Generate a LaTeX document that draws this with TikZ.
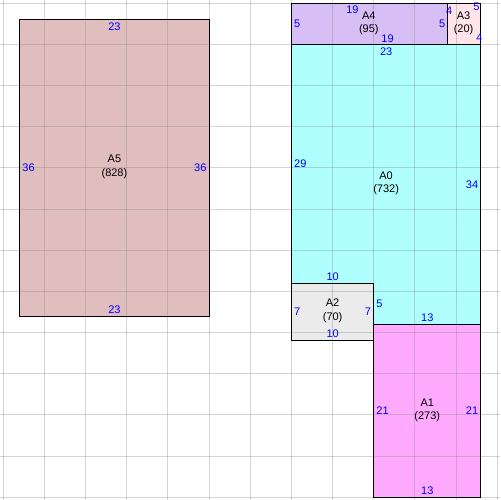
\documentclass[tikz,border=0pt]{standalone}
\usepackage{fontspec}
\setmainfont{Liberation Sans}
\definecolor{roomA}{RGB}{176,255,255}
\definecolor{roomB}{RGB}{255,170,255}
\definecolor{roomC}{RGB}{235,235,235}
\definecolor{roomD}{RGB}{255,228,234}
\definecolor{roomE}{RGB}{215,190,245}
\definecolor{roomF}{RGB}{224,190,190}
\begin{document}
\begin{tikzpicture} [x = 0.25cm, y = -0.25cm,
  room/.style = {draw = black, line width = 0.9pt},
  gridline/.style = {draw = black!48, opacity = 0.35, line width = 0.8pt},
  len/.style = {text = blue, inner sep = 0pt, font = \fontsize{9.5}{11.5}\selectfont},
  tag/.style = {align = center, inner sep = 0pt, font = \fontsize{9.5}{11.5}\selectfont}]
\useasboundingbox (-0.4,-0.4) rectangle (60.33,60.33);
\fill[white] (-0.4,-0.4) rectangle (60.33,60.33);
\fill[roomF] (2,2) rectangle (25,38);
\fill[roomE] (35,0) rectangle (54,5);
\fill[roomD] (54,0) rectangle (58,5);
\fill[roomA] (35,5) -- (58,5) -- (58,39) -- (45,39) -- (45,34) -- (35,34) -- cycle;
\fill[roomC] (35,34) rectangle (45,41);
\fill[roomB] (45,39) rectangle (58,60);
\foreach \k in {0,5,...,60} {
  \draw[gridline] (\k,-0.4) -- (\k,60.33);
  \draw[gridline] (-0.4,\k) -- (60.33,\k);
}
\draw[room] (2,2) rectangle (25,38);
\draw[room] (35,0) rectangle (54,5);
\draw[room] (54,0) rectangle (58,5);
\draw[room] (35,5) -- (58,5) -- (58,39) -- (45,39) -- (45,34) -- (35,34) -- cycle;
\draw[room] (35,34) rectangle (45,41);
\draw[room] (45,39) rectangle (58,60);
\node[tag] (a5) at (13.5,19.85) {A5\\(828)};
\node[len, anchor = north] (a5t) at (13.5,2.3) {23};
\node[len, anchor = south] (a5b) at (13.5,37.75) {23};
\node[len, anchor = west] (a5l) at (2.3,20) {36};
\node[len, anchor = east] (a5r) at (24.7,20) {36};
\node[tag] (a4) at (44.4,2.4) {A4\\(95)};
\node[len, anchor = north] (a4t) at (42.4,0.33) {19};
\node[len, anchor = south] (a4b) at (46.67,4.75) {19};
\node[len, anchor = west] (a4l) at (35.3,2.5) {5};
\node[len, anchor = east] (a4r) at (53.7,2.5) {5};
\node[tag] (a3) at (55.9,2.4) {A3\\(20)};
\node[len] (a3l) at (54.17,0.91) {4};
\node[len] (a3t) at (57.47,0.37) {5};
\node[len] (a3r) at (57.82,4.24) {4};
\node[tag] (a0) at (46.5,21.9) {A0\\(732)};
\node[len, anchor = north] (a0t) at (46.5,5.35) {23};
\node[len, anchor = west] (a0l) at (35.3,19.5) {29};
\node[len, anchor = east] (a0r) at (57.7,22) {34};
\node[len, anchor = south] (a0b) at (51.5,38.75) {13};
\node[len, anchor = south] (a0c) at (40,33.7) {10};
\node[len, anchor = west] (a0s) at (45.3,36.5) {5};
\node[tag] (a2) at (40,37.35) {A2\\(70)};
\node[len, anchor = west] (a2l) at (35.3,37.5) {7};
\node[len, anchor = east] (a2r) at (44.7,37.5) {7};
\node[len, anchor = south] (a2b) at (40,40.6) {10};
\node[tag] (a1) at (51.5,49.4) {A1\\(273)};
\node[len, anchor = west] (a1l) at (45.3,49.5) {21};
\node[len, anchor = east] (a1r) at (57.7,49.5) {21};
\node[len, anchor = south] (a1b) at (51.5,59.75) {13};
\end{tikzpicture}
\end{document}
